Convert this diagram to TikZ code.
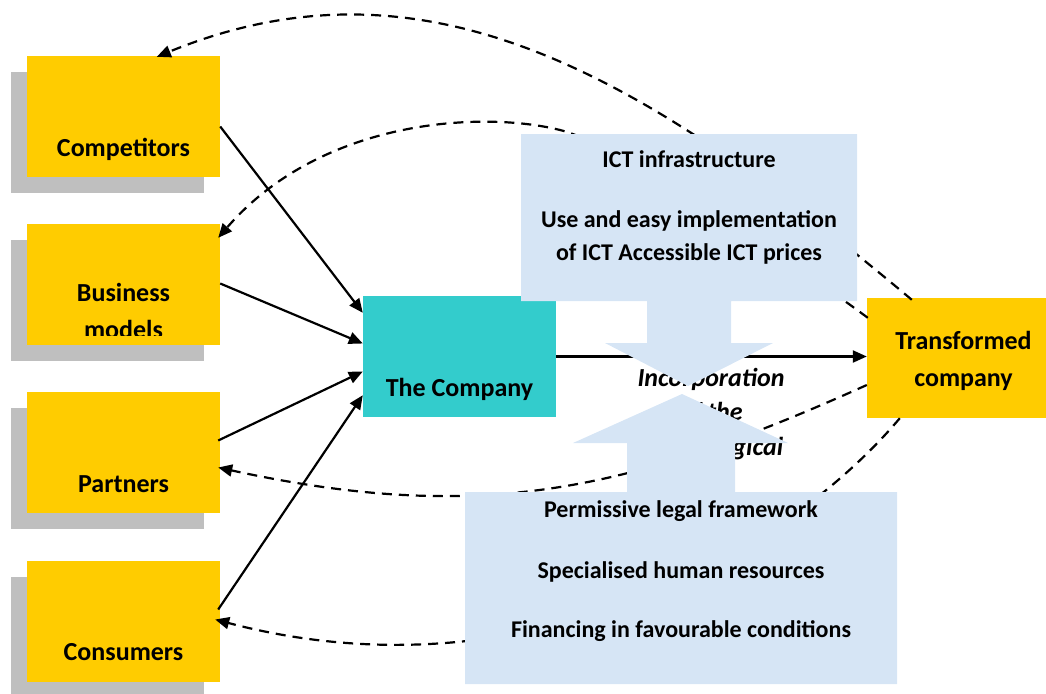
\documentclass[tikz,border=0pt]{standalone}
\usepackage{fontspec}
\setmainfont{Carlito}
\usetikzlibrary{arrows.meta,shadows,calc}
\definecolor{boxyellow}{RGB}{255,204,0}
\definecolor{shadowgray}{RGB}{191,191,191}
\definecolor{compteal}{RGB}{51,204,204}
\definecolor{infoblue}{RGB}{214,229,245}
\begin{document}
\begin{tikzpicture}[x=1pt,y=-1pt,
  ybox/.style={fill=boxyellow, minimum width=193pt, minimum height=121pt, inner sep=0pt,
    general shadow={fill=shadowgray, shadow xshift=-16pt, shadow yshift=-16pt}},
  tbox/.style={fill=compteal, minimum width=193pt, minimum height=121pt, inner sep=0pt},
  wbox/.style={fill=boxyellow, minimum width=193pt, minimum height=120pt, inner sep=0pt},
  ylabel/.style={inner sep=0pt, font=\fontsize{26}{31}\selectfont\bfseries},
  blabel/.style={inner sep=0pt, font=\fontsize{24}{29}\selectfont\bfseries},
  ilabel/.style={inner sep=0pt, font=\fontsize{26}{31}\selectfont\bfseries\itshape},
  conn/.style={line width=2.2pt, -{Triangle[length=14pt,width=12pt]}},
  back/.style={line width=2.2pt, dash pattern=on 10pt off 7pt, -{Triangle[length=14pt,width=12pt]}},
  blueshape/.style={fill=infoblue}]
\useasboundingbox (0,0) rectangle (1046,693);
% boxes
\node[ybox] (comp) at (123.5,116.5) {};
\node[ybox] (bm) at (123.5,284.5) {};
\node[ybox] (part) at (123.5,452.5) {};
\node[ybox] (cons) at (123.5,621.5) {};
\node[tbox] (company) at (459.5,356.5) {};
\node[wbox] (trans) at (963.5,358) {};
% box texts
\node[ylabel, anchor=base] (compT) at (123.5,156) {Competitors};
\begin{scope}
\clip (27,224) rectangle (220,335);
\node[ylabel, anchor=base] (bmT1) at (123.5,301) {Business};
\node[ylabel, anchor=base] (bmT2) at (123.5,338) {models};
\end{scope}
\node[ylabel, anchor=base] (partT) at (123.5,492) {Partners};
\node[ylabel, anchor=base] (consT) at (123.5,660) {Consumers};
\node[ylabel, anchor=base] (companyT) at (459.5,396) {The Company};
\node[ylabel, anchor=base] (transT1) at (963.5,349) {Transformed};
\node[ylabel, anchor=base] (transT2) at (963.5,386) {company};
% solid connectors
\draw[conn] ($(comp.east)+(0,10)$) -- ($(company.north west)+(0,17)$);
\draw[conn] ($(bm.east)+(0,-1)$) -- ($(company.west)+(0,-13)$);
\draw[conn] ($(part.east)+(-2,-12)$) -- ($(company.west)+(0,15)$);
\draw[conn] ($(cons.east)+(-2,-12)$) -- ($(company.south west)+(0,-22)$);
\draw[conn] (company.east) -- (company.east -| trans.west);
% dashed feedback connectors
\draw[back] ($(trans.north west)+(45,2)$) .. controls (650,80) and (430,-55) .. ($(comp.north west)+(130,1)$);
\draw[back] ($(trans.north west)+(1,20)$) .. controls (780,253) and (620,145) .. (560,130)
   .. controls (480,110) and (320,120) .. ($(bm.north east)+(-2,14)$);
\draw[back] ($(trans.west)+(0,27)$) .. controls (627,493) and (478,524) .. ($(part.east)+(-2,15)$);
\draw[back] ($(trans.south west)+(33,0)$) .. controls (780,560) and (520,700) .. ($(cons.east)+(-5,-2)$);
% italic middle text
\node[ilabel, anchor=base] (inc1) at (711,386) {Incorporation};
\node[ilabel, anchor=base] (inc2) at (711,420) {of the};
\node[ilabel, anchor=base] (inc3) at (711,455) {technological};
% blue shapes
\fill[blueshape] (521,134) -- (857,134) -- (857,301) -- (731,301) -- (731,343) -- (773,343)
   -- (688,386) -- (605,343) -- (647,343) -- (647,301) -- (521,301) -- cycle;
\fill[blueshape] (465,492) -- (627,492) -- (627,443) -- (573,443) -- (682,394) -- (788,443)
   -- (735,443) -- (735,492) -- (897,492) -- (897,684) -- (465,684) -- cycle;
% blue texts
\node[blabel, anchor=base] (ict1) at (689,167) {ICT infrastructure};
\node[blabel, anchor=base] (ict2) at (689,227) {Use and easy implementation};
\node[blabel, anchor=base] (ict3) at (689,260) {of ICT Accessible ICT prices};
\node[blabel, anchor=base] (cond1) at (681,517) {Permissive legal framework};
\node[blabel, anchor=base] (cond2) at (681,578) {Specialised human resources};
\node[blabel, anchor=base] (cond3) at (681,637) {Financing in favourable conditions};
\end{tikzpicture}
\end{document}
